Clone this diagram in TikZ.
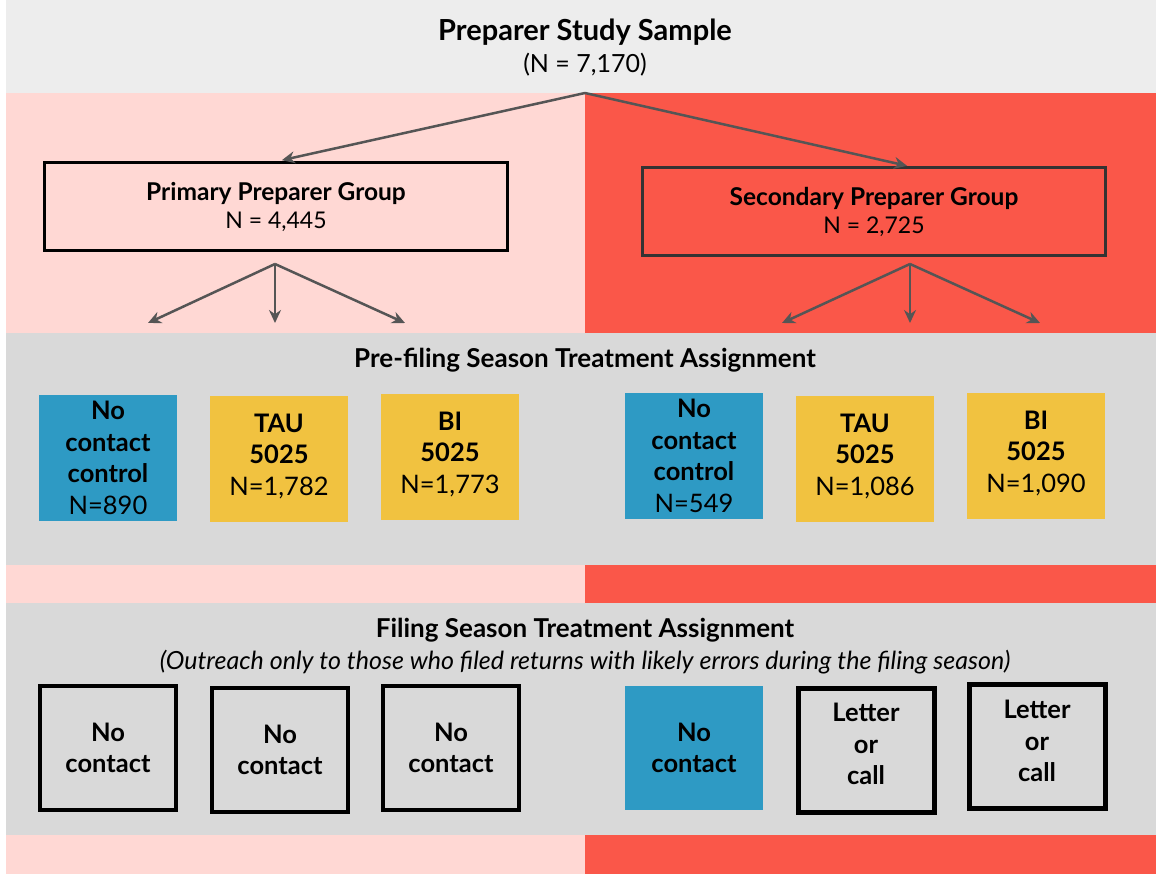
\documentclass[tikz,border=0pt]{standalone}
\usepackage{fontspec}
\setmainfont{Lato}
\usetikzlibrary{arrows.meta, positioning}
\definecolor{topgray}{RGB}{237,237,237}
\definecolor{bandgray}{RGB}{217,217,217}
\definecolor{lightpink}{RGB}{255,216,212}
\definecolor{redband}{RGB}{250,87,73}
\definecolor{ctrlblue}{RGB}{46,154,196}
\definecolor{treatyellow}{RGB}{241,194,64}
\definecolor{arrowgray}{RGB}{85,85,85}

\begin{document}
\begin{tikzpicture}[x=1pt, y=-1pt,
    groupbox/.style={draw, line width=3pt, minimum width=463pt, minimum height=88pt,
      align=center, font=\fontsize{23}{28}\selectfont},
    armbox/.style={minimum width=138pt, minimum height=126pt, inner sep=0pt,
      align=center, font=\fontsize{25.5}{31.5}\selectfont},
    filebox/.style={draw, line width=4pt, fill=bandgray, minimum width=136pt,
      minimum height=124pt, inner sep=0pt, align=center,
      font=\bfseries\fontsize{25.5}{31.5}\selectfont},
    split/.style={-{Stealth[length=13pt, width=12pt]}, line width=2.5pt, arrowgray}]
  \useasboundingbox (0,0) rectangle (1156,874);
  \fill[white] (0,0) rectangle (1156,874);

  % Background bands
  \fill[topgray] (6,0) rectangle (1156,93);
  \fill[lightpink] (6,93) rectangle (585,874);
  \fill[redband] (585,93) rectangle (1156,874);
  \fill[bandgray] (6,333) rectangle (1156,565);
  \fill[bandgray] (6,603) rectangle (1156,835);

  % Top
  \node[font=\bfseries\fontsize{29}{34}\selectfont] (sample) at (585,32) {Preparer Study Sample};
  \node[font=\fontsize{25}{30}\selectfont] (sampleN) at (585,65) {(N = 7,170)};
  \coordinate (split) at (585,93);

  % Preparer groups
  \node[groupbox, fill=lightpink] (primary) at (276,207)
    {\textbf{\fontsize{24.5}{28}\selectfont Primary Preparer Group}\\N = 4,445};
  \node[groupbox, fill=redband, draw=black!80] (secondary) at (874,212)
    {\textbf{\fontsize{24.5}{28}\selectfont Secondary Preparer Group}\\N = 2,725};
  \draw[split, shorten >=6pt] (split) -- (primary.north);
  \draw[split, shorten >=3pt] (split) -- (secondary.north -| 910,0);

  % Split to arms
  \coordinate (pfork) at (275,264);
  \coordinate (sfork) at (910,264);
  \foreach \f/\x in {pfork/148, pfork/275, pfork/405, sfork/782, sfork/910, sfork/1040} {
    \coordinate (end-\x) at (\x,323);
    \draw[split] (\f) -- (end-\x);
  }

  % Pre-filing assignment
  \node[font=\bfseries\fontsize{26}{30}\selectfont] (prefile) at (585,360)
    {Pre-filing Season Treatment Assignment};
  \node[armbox, fill=ctrlblue] (p1) at (108,458) {\textbf{No}\\\textbf{contact}\\\textbf{control}\\N=890};
  \node[armbox, fill=treatyellow] (p2) at (279,459) {\textbf{TAU}\\\textbf{5025}\\N=1,782\\[-23pt]};
  \node[armbox, fill=treatyellow] (p3) at (450,457) {\textbf{BI}\\\textbf{5025}\\N=1,773\\[-23pt]};
  \node[armbox, fill=ctrlblue] (s1) at (694,456) {\textbf{No}\\\textbf{contact}\\\textbf{control}\\N=549};
  \node[armbox, fill=treatyellow] (s2) at (865,459) {\textbf{TAU}\\\textbf{5025}\\N=1,086\\[-23pt]};
  \node[armbox, fill=treatyellow] (s3) at (1036,456) {\textbf{BI}\\\textbf{5025}\\N=1,090\\[-23pt]};

  % Filing season assignment
  \node[font=\bfseries\fontsize{26}{30}\selectfont] (filing) at (585,630)
    {Filing Season Treatment Assignment};
  \node[font=\itshape\fontsize{25}{30}\selectfont] (filingsub) at (585,662)
    {(Outreach only to those who filed returns with likely errors during the filing season)};
  \node[filebox] (f1) at (108,748) {No\\contact};
  \node[filebox] (f2) at (280,750) {No\\contact};
  \node[filebox] (f3) at (451,748) {No\\contact};
  \node[filebox, draw=none, fill=ctrlblue, minimum width=138pt, minimum height=124pt] (g1) at (694,748) {No\\contact};
  \node[filebox, line width=5pt] (g2) at (866,750) {Letter\\or\\call\\[-20pt]};
  \node[filebox, line width=5pt] (g3) at (1037,746) {Letter\\or\\call\\[-22pt]};
\end{tikzpicture}
\end{document}
